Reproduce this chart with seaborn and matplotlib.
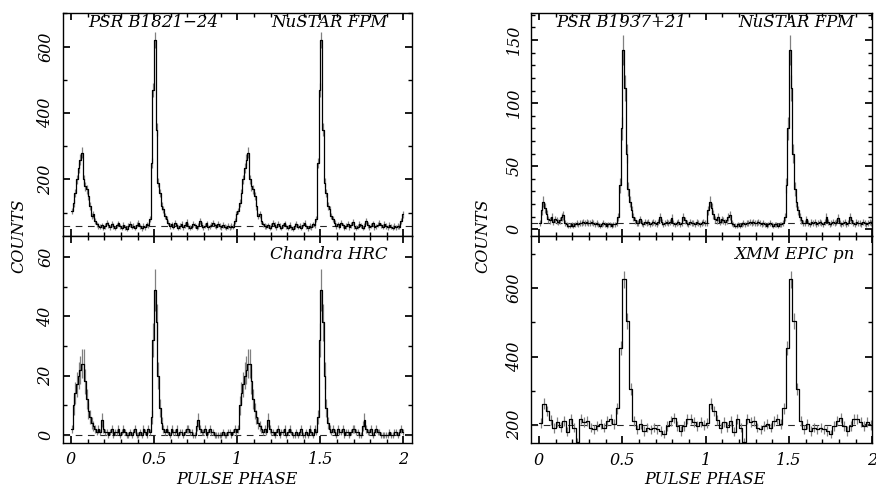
import numpy as np
import pandas as pd
import matplotlib
matplotlib.use("Agg")
import matplotlib.pyplot as plt
from matplotlib.ticker import MultipleLocator, FormatStrFormatter
import seaborn as sns

sns.set_theme(style="ticks")
plt.rcParams.update({
    "font.family": ["DejaVu Serif"],
    "font.style": "italic",
    "text.color": "black",
    "axes.labelcolor": "black",
    "axes.linewidth": 1.0,
    "axes.edgecolor": "black",
    "xtick.direction": "in",
    "ytick.direction": "in",
    "xtick.top": True,
    "ytick.right": True,
    "xtick.major.size": 5,
    "ytick.major.size": 5,
    "xtick.minor.size": 2.8,
    "ytick.minor.size": 2.8,
    "xtick.color": "black",
    "ytick.color": "black",
    "xtick.labelcolor": "black",
    "ytick.labelcolor": "black",
})

# ------------------------------------------------------------------
# pulse profiles, one cycle each (shown twice, phase 0-2)
# ------------------------------------------------------------------
# PSR B1821-24, NuSTAR FPM (100 bins)
nustar_1821 = [
    105, 130, 160, 200, 235, 260, 280, 200, 180, 170,
    150, 120, 90, 95, 75, 65, 60, 58, 62, 55,
    60, 70, 63, 57, 66, 60, 54, 62, 68, 59,
    55, 63, 57, 52, 60, 66, 58, 61, 55, 64,
    70, 59, 53, 60, 57, 65, 62, 80, 250, 470,
    620, 350, 190, 160, 120, 110, 90, 80, 70, 60,
    65, 58, 70, 62, 55, 60, 67, 57, 63, 72,
    60, 55, 58, 66, 62, 54, 60, 75, 63, 57,
    61, 68, 56, 59, 64, 70, 62, 58, 66, 60,
    56, 63, 58, 55, 60, 57, 60, 58, 75, 95,
]
nustar_1821_base = 60

# PSR B1821-24, Chandra HRC (100 bins)
chandra_1821 = [
    2, 10, 14, 17, 20, 22, 24, 24, 18, 12,
    8, 6, 4, 3, 2, 1, 2, 1, 5, 2,
    1, 1, 0, 1, 2, 0, 1, 1, 2, 0,
    1, 2, 1, 0, 0, 1, 0, 1, 2, 0,
    0, 1, 0, 2, 1, 0, 2, 1, 6, 32,
    49, 38, 20, 9, 4, 2, 1, 2, 1, 0,
    2, 1, 1, 2, 0, 1, 1, 0, 1, 2,
    2, 1, 1, 0, 0, 3, 5, 2, 1, 1,
    2, 0, 1, 2, 1, 1, 0, 0, 0, 0,
    0, 1, 0, 0, 1, 1, 0, 1, 2, 1,
]
chandra_1821_base = 0

# PSR B1937+21, NuSTAR FPM (100 bins)
nustar_1937 = [
    5, 15, 22, 17, 12, 8, 7, 10, 6, 8,
    7, 6, 7, 10, 11, 5, 4, 3, 3, 4,
    3, 4, 5, 4, 5, 5, 6, 5, 6, 5,
    5, 6, 5, 4, 5, 4, 3, 4, 5, 4,
    3, 4, 4, 3, 4, 4, 5, 10, 35, 80,
    142, 112, 60, 32, 22, 15, 10, 7, 5, 5,
    8, 5, 4, 6, 5, 6, 4, 5, 6, 5,
    4, 6, 10, 6, 4, 5, 6, 5, 6, 9,
    5, 4, 5, 6, 4, 5, 10, 7, 5, 4,
    6, 5, 5, 4, 6, 5, 4, 5, 6, 5,
]
nustar_1937_base = 5

# PSR B1937+21, XMM EPIC pn (50 bins)
xmm_1937 = [
    205, 262, 240, 215, 190, 208, 193, 212, 180, 217,
    192, 150, 217, 207, 212, 192, 187, 197, 202, 192,
    212, 217, 202, 248, 425, 626, 504, 305, 212, 187,
    202, 182, 192, 187, 192, 187, 182, 173, 197, 212,
    221, 197, 182, 197, 217, 217, 207, 197, 207, 200,
]
xmm_1937_base = 200

panels = [
    # (counts, baseline, ylim, major, minor, xlim, labels)
    (nustar_1821, nustar_1821_base, (30, 700), 200, 100, (-0.05, 2.05),
     "PSR B1821\u221224", "NuSTAR FPM"),
    (chandra_1821, chandra_1821_base, (-2.7, 67.2), 20, 10, (-0.05, 2.05),
     None, "Chandra HRC"),
    (nustar_1937, nustar_1937_base, (-5.3, 171.2), 50, 10, (-0.048, 2.0),
     "PSR B1937+21", "NuSTAR FPM"),
    (xmm_1937, xmm_1937_base, (146, 753), 200, 100, (-0.048, 2.0),
     None, "XMM EPIC pn"),
]

positions = [
    [0.0716, 0.5213, 0.3985, 0.4517],
    [0.0716, 0.1020, 0.3985, 0.4193],
    [0.6062, 0.5213, 0.3896, 0.4517],
    [0.6062, 0.1010, 0.3896, 0.4203],
]

fig = plt.figure(figsize=(8.76, 4.93), dpi=100)
FS = 11.5

for k, (counts, base, ylim, major, minor, xlim, psr, inst) in enumerate(panels):
    ax = fig.add_axes(positions[k])
    vals = np.tile(np.asarray(counts, dtype=float), 2)
    n = len(vals)
    edges = np.linspace(0, 2, n + 1)
    centers = 0.5 * (edges[:-1] + edges[1:])
    err = np.sqrt(np.maximum(vals, 1.0))

    df = pd.DataFrame({"phase": edges, "counts": np.append(vals, vals[-1])})

    ax.axhline(base, color="0.15", lw=0.8, ls=(0, (6, 5)), zorder=1)
    ax.vlines(centers, vals - err, vals + err, color="0.5", lw=0.9, zorder=2)
    sns.lineplot(data=df, x="phase", y="counts", drawstyle="steps-post",
                 color="black", lw=0.9, estimator=None, sort=False,
                 ax=ax, zorder=3)

    ax.set_xlim(*xlim)
    ax.set_ylim(*ylim)
    ax.xaxis.set_major_locator(MultipleLocator(0.5))
    ax.xaxis.set_minor_locator(MultipleLocator(0.1))
    ax.yaxis.set_major_locator(MultipleLocator(major))
    ax.yaxis.set_minor_locator(MultipleLocator(minor))
    ax.xaxis.set_major_formatter(FormatStrFormatter("%g"))
    ax.tick_params(which="both", top=True, right=True, direction="in",
                   labelsize=FS, pad=6)
    for lab in ax.get_yticklabels():
        lab.set_rotation(90)
        lab.set_va("center")
    ax.set_xlabel("")
    ax.set_ylabel("")
    for s in ax.spines.values():
        s.set_visible(True)

    if psr is not None:
        ax.tick_params(labelbottom=False)
        ax.text(0.073, 0.94, psr, transform=ax.transAxes, fontsize=12,
                ha="left", va="baseline")
        ax.text(0.93 if k == 0 else 0.947, 0.94, inst, transform=ax.transAxes,
                fontsize=12, ha="right", va="baseline")
    else:
        ax.text(0.93 if k == 1 else 0.949, 0.89, inst, transform=ax.transAxes,
                fontsize=12, ha="right", va="baseline")

fig.text(0.021, 0.521, "COUNTS", rotation=90, ha="center", va="center", fontsize=FS)
fig.text(0.551, 0.521, "COUNTS", rotation=90, ha="center", va="center", fontsize=FS)
fig.text(0.27, 0.028, "PULSE PHASE", ha="center", va="center", fontsize=FS)
fig.text(0.805, 0.028, "PULSE PHASE", ha="center", va="center", fontsize=FS)

fig.savefig("out.png", dpi=100)
